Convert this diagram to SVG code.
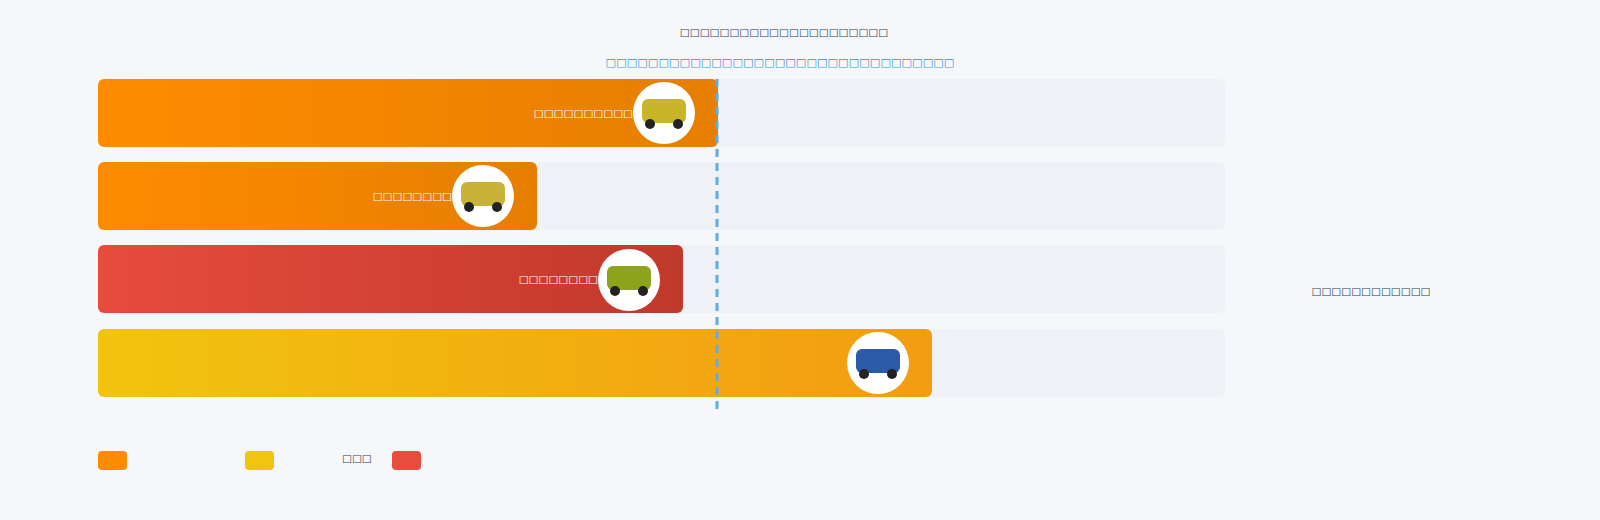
<svg xmlns="http://www.w3.org/2000/svg" width="1600" height="520" viewBox="0 0 1600 520">
<defs>
<style>
text{font-family:"DejaVu Sans","Noto Sans",sans-serif;font-size:10.5px}
.t{fill:#2c3e50}
.w{fill:#fff;text-anchor:end}
.trk{fill:#eef2f6}
.ph{fill:#fff}
.tire{fill:#222}
</style>
<linearGradient id="go" x1="0" x2="1"><stop offset="0" stop-color="#ff8c00"/><stop offset="1" stop-color="#e67e00"/></linearGradient>
<linearGradient id="gr" x1="0" x2="1"><stop offset="0" stop-color="#e74c3c"/><stop offset="1" stop-color="#c0392b"/></linearGradient>
<linearGradient id="gy" x1="0" x2="1"><stop offset="0" stop-color="#f1c40f"/><stop offset="1" stop-color="#f39c12"/></linearGradient>
</defs>
<rect width="1600" height="520" fill="#f5f7fa"/>
<text class="t" x="784" y="36" text-anchor="middle">□□□□□□□□□□□□□□□□□□□□□</text>
<text x="780" y="66" text-anchor="middle" fill="#3498db" style="font-size:11.2px">□□□□□□□□□□□□□□□□□□□□□□□□□□□□□□□□□</text>
<g id="tracks">
<rect class="trk" x="98" y="79" width="1127" height="68" rx="6"/>
<rect class="trk" x="98" y="162" width="1127" height="68" rx="6"/>
<rect class="trk" x="98" y="245" width="1127" height="68" rx="6"/>
<rect class="trk" x="98" y="329" width="1127" height="68" rx="6"/>
</g>
<g id="bar1"><rect x="98" y="79" width="620" height="68" rx="6" fill="url(#go)"/><text class="w" x="633" y="117">□□□□□□□□□□</text>
<circle class="ph" cx="664" cy="113" r="31"/><rect x="642" y="99" width="44" height="24" rx="6" fill="#c9b52a"/><circle class="tire" cx="650" cy="124" r="5"/><circle class="tire" cx="678" cy="124" r="5"/></g>
<g id="bar2"><rect x="98" y="162" width="439" height="68" rx="6" fill="url(#go)"/><text class="w" x="452" y="200">□□□□□□□□</text>
<circle class="ph" cx="483" cy="196" r="31"/><rect x="461" y="182" width="44" height="24" rx="6" fill="#c9b23a"/><circle class="tire" cx="469" cy="207" r="5"/><circle class="tire" cx="497" cy="207" r="5"/></g>
<g id="bar3"><rect x="98" y="245" width="585" height="68" rx="6" fill="url(#gr)"/><text class="w" x="598" y="283">□□□□□□□□</text>
<circle class="ph" cx="629" cy="280" r="31"/><rect x="607" y="266" width="44" height="24" rx="6" fill="#8ea31c"/><circle class="tire" cx="615" cy="291" r="5"/><circle class="tire" cx="643" cy="291" r="5"/></g>
<g id="bar4"><rect x="98" y="329" width="834" height="68" rx="6" fill="url(#gy)"/>
<circle class="ph" cx="878" cy="363" r="31"/><rect x="856" y="349" width="44" height="24" rx="6" fill="#2a5aa8"/><circle class="tire" cx="864" cy="374" r="5"/><circle class="tire" cx="892" cy="374" r="5"/></g>
<g id="connectors"><line x1="717" y1="79" x2="717" y2="412" stroke="#5dade2" stroke-width="3" stroke-dasharray="8,6"/></g>
<text class="t" x="1371" y="295" text-anchor="middle">□□□□□□□□□□□□</text>
<g id="legend">
<rect x="98" y="451" width="29" height="19" rx="4" fill="#ff8c00"/>
<rect x="245" y="451" width="29" height="19" rx="4" fill="#f1c40f"/>
<text class="t" x="342" y="462">□□□</text>
<rect x="392" y="451" width="29" height="19" rx="4" fill="#e74c3c"/>
</g>
</svg>
